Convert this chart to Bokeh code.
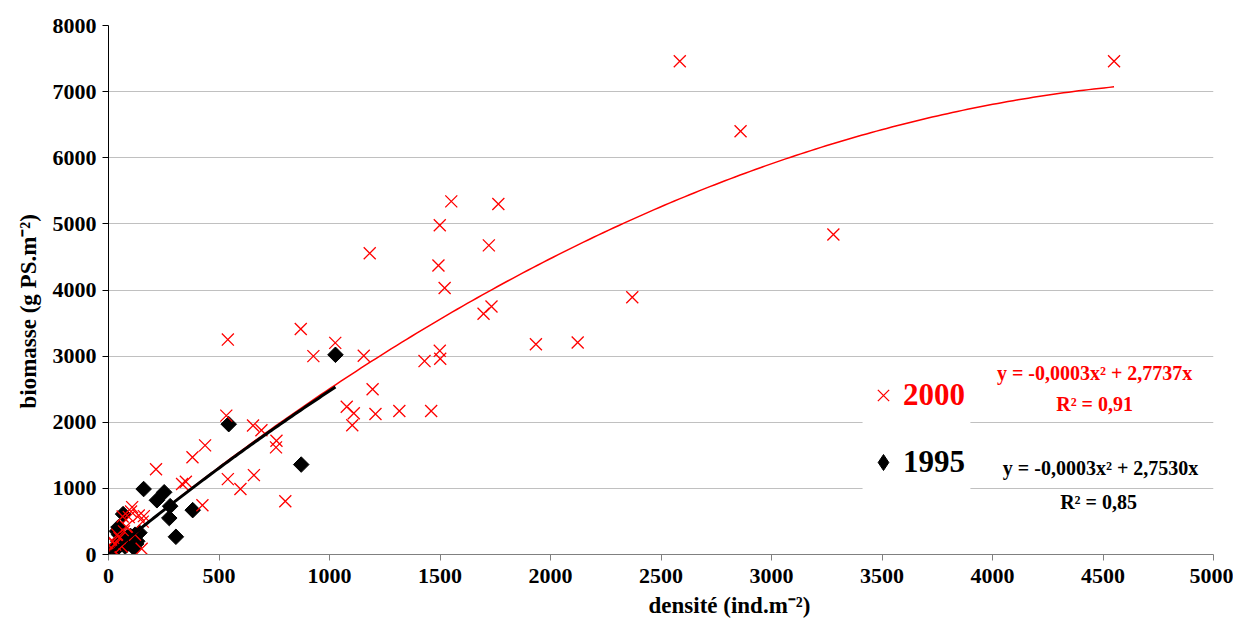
import numpy as np
from bokeh.plotting import figure
from bokeh.models import (Range1d, FixedTicker, Legend, LegendItem, BoxAnnotation, Label,
                          ColumnDataSource, Title)
from bokeh.embed import file_html
from bokeh.resources import INLINE

# ---- data ----
dens_2000 = [4550, 2585, 2860, 3280, 2370, 2123, 1934,
             1551, 1764, 1499, 1182, 1721, 1493, 1521,
             1733, 1697, 1499, 1501, 1430, 1026, 927, 1155, 870, 540,
             1195, 1078, 1110, 1103, 1208, 1316, 1460,
             533, 654, 692, 760, 758, 437, 380, 215,
             350, 333, 540, 597, 658, 800, 425, 160, 155,
             102, 64, 107, 137, 92, 40, 20, 10, 5, 0, 30, 50, 70, 80, 120, 150, 60, 25]
biom_2000 = [7460, 7460, 6400, 4840, 3890, 3205, 3180,
             5340, 5300, 4980, 4555, 4675, 4370, 4030,
             3750, 3640, 3080, 2960, 2925, 3200, 3000, 3005, 3410, 3250,
             2500, 2235, 2135, 1955, 2125, 2170, 2170,
             2100, 1950, 1880, 1720, 1620, 1650, 1470, 1290,
             1100, 1066, 1140, 990, 1200, 805, 745, 580, 497,
             650, 574, 716, 590, 565, 300, 200, 100, 30, 0, 150, 250, 350, 420, 300, 86, 120, 60]

dens_1995 = [1027, 544, 872, 159, 219, 252, 279, 275, 305, 381, 66, 45,
             5, 10, 15, 20, 25, 30, 35, 40, 45, 50, 55, 60, 65, 70, 80, 85, 90, 95,
             100, 110, 120, 130, 140, 12, 8, 3, 18, 28, 48, 38, 75, 105, 115, 125]
biom_1995 = [3020, 1971, 1360, 990, 820, 941, 731, 551, 268, 671, 611, 413,
             10, 30, 50, 80, 60, 120, 100, 150, 200, 130, 180, 250, 220, 160, 200, 260, 230, 180,
             280, 250, 300, 200, 330, 20, 5, 2, 40, 90, 300, 350, 120, 150, 100, 160]

# polynomial trend coefficients (y = a x^2 + b x)
fit_2000 = (-0.000268, 2.7737)
fit_1995 = (-0.00028, 2.7530)

x_ticks = [0, 500, 1000, 1500, 2000, 2500, 3000, 3500, 4000, 4500, 5000]
y_ticks = [0, 1000, 2000, 3000, 4000, 5000, 6000, 7000, 8000]

SERIF = "Liberation Serif"

p = figure(width=1233, height=622, output_backend="svg", toolbar_location=None,
           x_range=Range1d(0, 5000), y_range=Range1d(0, 8000),
           min_border_left=108, min_border_right=20, min_border_top=25, min_border_bottom=0)
p.outline_line_color = None
p.background_fill_color = "white"

p.xgrid.visible = False
p.ygrid.grid_line_color = "#c0c0c0"
p.ygrid.grid_line_width = 1
p.xaxis.ticker = FixedTicker(ticks=x_ticks)
p.yaxis.ticker = FixedTicker(ticks=y_ticks)

for ax in (p.xaxis[0], p.yaxis[0]):
    ax.major_label_text_font = SERIF
    ax.major_label_text_font_style = "bold"
    ax.major_label_text_font_size = "22px"
    ax.major_label_text_color = "black"
    ax.minor_tick_line_color = None
    ax.major_tick_in = 0
    ax.major_tick_out = 6

p.xaxis.axis_line_color = "#808080"
p.xaxis.major_tick_line_color = "#808080"
p.yaxis.axis_line_color = "black"
p.yaxis.major_tick_line_color = "black"
p.xaxis.major_label_standoff = 8
p.yaxis.major_label_standoff = 6

# axis titles (placed off-centre as in the reference)
p.add_layout(Title(text="densité (ind.m⁻²)", align="left", offset=540, standoff=10,
                   text_font=SERIF, text_font_style="bold", text_font_size="23px",
                   text_color="black"), "below")
p.add_layout(Title(text="biomasse (g PS.m⁻²)", align="left", offset=146, standoff=18,
                   text_font=SERIF, text_font_style="bold", text_font_size="23px",
                   text_color="black"), "left")

# white legend box
p.add_layout(BoxAnnotation(left=3412, right=3900, bottom=820, top=2950,
                           fill_color="white", fill_alpha=1, line_color=None, level="underlay"))

r95 = p.scatter(dens_1995, biom_1995, marker="square", size=11, angle=np.pi / 4,
                fill_color="black", line_color="black")
r00 = p.scatter(dens_2000, biom_2000, marker="x", size=17, line_color="red", line_width=1.3)

xx0 = np.linspace(0, max(dens_2000), 200)
p.line(xx0, fit_2000[0] * xx0 ** 2 + fit_2000[1] * xx0, line_color="red", line_width=1.5)
xx5 = np.linspace(0, max(dens_1995), 100)
p.line(xx5, fit_1995[0] * xx5 ** 2 + fit_1995[1] * xx5, line_color="black", line_width=3)

# legend-only renderer with a diamond symbol for 1995
r95_leg = p.scatter(x="x", y="y", source=ColumnDataSource(dict(x=[np.nan], y=[np.nan])),
                    marker="diamond", fill_color="black", line_color="black")

leg1 = Legend(items=[LegendItem(label="2000", renderers=[r00])], location=(755, 139),
              glyph_width=40, glyph_height=40, label_standoff=0, padding=0, margin=0,
              label_text_font=SERIF, label_text_font_style="bold", label_text_font_size="31px",
              label_text_color="red", background_fill_alpha=0, border_line_alpha=0)
leg2 = Legend(items=[LegendItem(label="1995", renderers=[r95_leg])], location=(755, 72),
              glyph_width=40, glyph_height=40, label_standoff=0, padding=0, margin=0,
              label_text_font=SERIF, label_text_font_style="bold", label_text_font_size="31px",
              label_text_color="black", background_fill_alpha=0, border_line_alpha=0)
p.add_layout(leg1)
p.add_layout(leg2)

def eq_label(x, y, txt, color):
    p.add_layout(Label(x=x, y=y, text=txt, text_align="center", text_baseline="middle",
                       text_font=SERIF, text_font_style="bold", text_font_size="20px",
                       text_color=color))

eq_label(4462, 2738, "y = -0,0003x² + 2,7737x", "red")
eq_label(4462, 2270, "R² = 0,91", "red")
eq_label(4489, 1301, "y = -0,0003x² + 2,7530x", "black")
eq_label(4480, 787, "R² = 0,85", "black")

open("out.html", "w").write(file_html(p, INLINE))
